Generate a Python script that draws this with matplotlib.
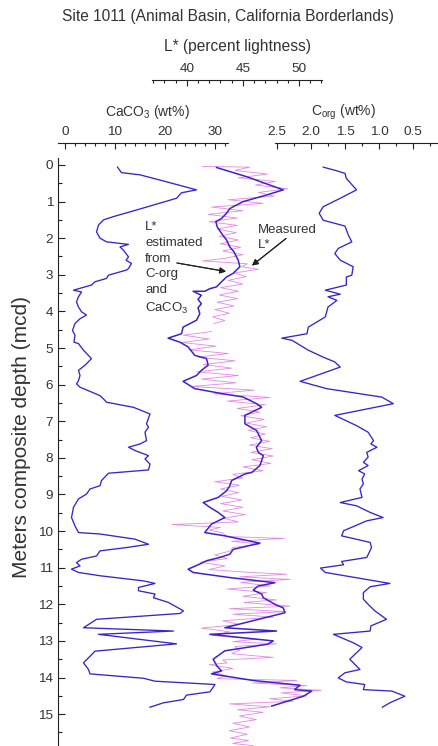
import matplotlib
matplotlib.use("Agg")
from matplotlib import pyplot as plt
from matplotlib.ticker import MultipleLocator, FormatStrFormatter

plt.rcParams['font.family'] = ['Liberation Sans', 'DejaVu Sans']
plt.rcParams['mathtext.fontset'] = 'custom'
plt.rcParams['mathtext.rm'] = 'Liberation Sans'
plt.rcParams['mathtext.it'] = 'Liberation Sans:italic'
plt.rcParams['mathtext.bf'] = 'Liberation Sans:bold'

# CaCO3 (wt%) vs depth (mcd)
ca_depth = [0.06, 0.21, 0.27, 0.46, 0.68, 0.76, 0.91, 1.23, 1.41, 1.5,
            1.64, 1.83, 2.0, 2.1, 2.17, 2.24, 2.33, 2.51, 2.6, 2.69,
            2.83, 2.87, 3.01, 3.1, 3.19, 3.28, 3.42, 3.47, 3.6, 3.74,
            3.88, 4.01, 4.1, 4.2, 4.33, 4.52, 4.65, 4.84, 4.88, 5.06,
            5.29, 5.47, 5.61, 5.75, 5.89, 5.98, 6.07, 6.3, 6.39, 6.48,
            6.62, 6.8, 7.07, 7.16, 7.3, 7.53, 7.62, 7.71, 7.8, 7.94,
            8.03, 8.17, 8.33, 8.42, 8.62, 8.76, 8.85, 8.99, 9.12, 9.35,
            9.63, 9.86, 10.04, 10.08, 10.22, 10.36, 10.45, 10.54, 10.68, 10.77,
            10.86, 10.95, 11.04, 11.13, 11.22, 11.36, 11.43, 11.54, 11.63, 11.72,
            11.82, 11.95, 12.18, 12.25, 12.41, 12.64, 12.73, 12.82, 13.08, 13.28,
            13.6, 13.78, 13.9, 14.02, 14.1, 14.19, 14.39, 14.48, 14.6, 14.69,
            14.81]
ca_val = [10.5, 11.3, 15, 20.3, 26.3, 23.3, 22.3, 14.3, 9.7, 7.7,
          6.7, 6.3, 7, 8.3, 12.7, 11, 11.7, 12.7, 12.2, 13.3,
          12.7, 12.3, 8.7, 8.3, 6, 5.3, 1.7, 3.3, 2.7, 2.3,
          2.7, 3.3, 4.3, 3, 2, 1.5, 2, 1.8, 2.7, 3.7,
          5.3, 4, 2.7, 3, 2.7, 2.3, 3, 7, 7.7, 8.3,
          13.7, 17, 16.3, 16.7, 16, 16.3, 15, 12.7, 14, 16.7,
          16, 17, 16.7, 8.7, 7.3, 7, 5, 4.3, 2.7, 1.7,
          1.3, 2, 2.7, 7, 14, 16.7, 12.3, 7, 6.3, 3.3,
          2.3, 3, 1.3, 2.7, 7, 15.7, 18, 14.7, 14.7, 18,
          17.7, 20.7, 23.7, 23, 6.3, 3.7, 21.7, 6.7, 22.3, 6,
          3.7, 4.7, 5, 15.7, 18, 30, 29, 24.3, 23.7, 19.7,
          17]

# C-org (wt%) vs depth
corg_depth = [0.06, 0.16, 0.23, 0.37, 0.68, 0.91, 1.14, 1.32, 1.51, 1.67,
              1.92, 2.1, 2.28, 2.42, 2.6, 2.78, 3.01, 3.06, 3.28, 3.42,
              3.53, 3.6, 3.7, 3.88, 4.15, 4.24, 4.43, 4.61, 4.73, 4.79,
              5.06, 5.25, 5.38, 5.52, 5.91, 6.11, 6.34, 6.52, 6.84, 7.12,
              7.3, 7.53, 7.62, 7.71, 7.85, 7.98, 8.12, 8.21, 8.35, 8.44,
              8.58, 8.71, 8.85, 9.08, 9.22, 9.31, 9.49, 9.63, 9.72, 9.99,
              10.13, 10.31, 10.45, 10.72, 10.83, 10.92, 11.01, 11.13, 11.43, 11.52,
              11.68, 11.86, 12.0, 12.18, 12.41, 12.59, 12.73, 12.82, 13.05, 13.18,
              13.5, 13.78, 13.87, 14.01, 14.12, 14.19, 14.33, 14.37, 14.51, 14.69,
              14.81]
corg_val = [1.82, 1.62, 1.5, 1.48, 1.33, 1.57, 1.82, 1.88, 1.82, 1.5,
            1.45, 1.4, 1.6, 1.65, 1.57, 1.38, 1.4, 1.48, 1.48, 1.79,
            1.57, 1.75, 1.62, 1.75, 1.79, 1.87, 2.04, 2.06, 2.43, 2.28,
            2.04, 1.82, 1.65, 1.57, 2.16, 1.77, 0.96, 0.79, 1.65, 1.33,
            1.16, 1.08, 1.12, 1.03, 1.18, 1.16, 1.23, 1.16, 1.3, 1.21,
            1.25, 1.23, 1.28, 1.25, 1.57, 1.33, 1.13, 0.94, 1.18, 1.52,
            1.55, 1.13, 1.11, 1.18, 1.55, 1.52, 1.86, 1.79, 0.84, 1.13,
            1.23, 1.23, 1.16, 1.06, 0.89, 1.12, 1.13, 1.67, 1.38, 1.25,
            1.43, 1.28, 1.5, 1.6, 1.48, 1.21, 1.23, 0.81, 0.62, 0.84,
            0.95]

# L* estimated from C-org and CaCO3
lest_depth = [0.07, 0.32, 0.55, 0.68, 0.82, 1.0, 1.19, 1.32, 1.46, 1.55,
              1.69, 1.87, 2.05, 2.24, 2.37, 2.6, 2.78, 2.96, 3.06, 3.19,
              3.33, 3.38, 3.45, 3.45, 3.56, 3.67, 3.79, 3.9, 4.06, 4.24,
              4.43, 4.61, 4.73, 4.84, 4.97, 5.2, 5.29, 5.47, 5.61, 5.75,
              5.91, 6.11, 6.25, 6.34, 6.52, 6.62, 6.84, 7.07, 7.25, 7.53,
              7.71, 7.85, 7.94, 8.21, 8.4, 8.44, 8.53, 8.62, 8.76, 8.9,
              9.08, 9.22, 9.35, 9.49, 9.63, 9.81, 10.04, 10.13, 10.33, 10.5,
              10.63, 10.72, 10.81, 10.9, 11.04, 11.13, 11.27, 11.41, 11.5, 11.61,
              11.72, 11.82, 12.0, 12.1, 12.23, 12.64, 12.73, 12.82, 13.0, 13.09,
              13.27, 13.5, 13.69, 13.82, 13.9, 14.08, 14.21, 14.33, 14.37, 14.51,
              14.78]
lest_val = [42.65, 45.33, 47.41, 48.6, 47.12, 45.03, 43.84, 43.54, 43.1, 42.59,
            42.71, 43.1, 43.54, 43.84, 44.2, 44.58, 44.73, 44.13, 43.54, 43.1,
            42.65, 42.05, 41.6, 40.56, 41.3, 41.0, 41.3, 41.0, 41.16, 40.87,
            39.67, 39.53, 38.33, 39.38, 40.12, 40.71, 41.76, 41.9, 41.3, 40.87,
            39.67, 40.71, 43.24, 45.03, 46.22, 46.67, 45.18, 45.18, 46.22, 46.67,
            46.2, 46.37, 46.82, 46.52, 45.78, 45.18, 44.58, 43.99, 43.84, 43.54,
            42.8, 41.46, 42.05, 42.8, 43.39, 42.2, 41.6, 43.39, 46.52, 44.13,
            43.84, 42.95, 41.76, 41.16, 40.12, 40.56, 43.84, 47.86, 46.37, 45.92,
            46.67, 46.82, 47.86, 48.6, 48.75, 43.39, 48.0, 42.05, 47.71, 47.2,
            43.39, 42.35, 42.7, 43.1, 42.2, 45.9, 50.09, 49.6, 51.13, 50.4,
            47.56]

# measured L* (nan = gap)
nan = float('nan')
lmeas_depth = [0.04, 0.06, 0.15, 0.25, 0.35, 0.45, 0.55, 0.65, 0.75, 0.85, 0.95,
               1.05, 1.15, 1.25, 1.35, 1.45, 1.55, 1.65, 1.75, 1.85, 1.95,
               2.05, 2.15, 2.25, 2.35, 2.45, 2.55, 2.62, 2.7, 2.78, 2.85, 2.95,
               3.05, 3.15, 3.25, 3.35, 3.45, 3.55, 3.65, 3.75, 3.85, 3.95,
               4.05, 4.15, 4.25, 4.33, 4.45, 4.55, 4.65, 4.75, 4.85, 4.95,
               5.05, 5.15, 5.25, 5.35, 5.45, 5.55, 5.65, 5.75, 5.85, 5.95,
               6.05, 6.15, 6.25, 6.35, 6.45, 6.55, 6.65, 6.75, 6.85, 6.95,
               7.05, 7.15, 7.25, 7.35, 7.45, 7.55, 7.65, 7.75, 7.85, 7.95,
               8.05, 8.15, 8.25, 8.35, 8.45, 8.55, 8.65, 8.75, 8.85, 8.95,
               9.05, 9.15, 9.25, 9.35, 9.45, 9.55, 9.65, 9.75, 9.82, 9.9, 9.97,
               10.05, 10.15, 10.2, 10.28, 10.35, 10.45, 10.55, 10.65, 10.75, 10.85, 10.95,
               11.05, 11.12, 11.18, 11.25, 11.32, 11.4, 11.5, 11.58, 11.68, 11.78, 11.88, 11.95,
               12.05, 12.12, 12.2, 12.27, 12.35, 12.45, 12.55, 12.65, 12.75, 12.85, 12.95,
               13.02, 13.08, 13.15, 13.25, 13.35, 13.45, 13.52, 13.6, 13.65, 13.75, 13.85, 13.95,
               14.03, 14.08, 14.15, 14.22, 14.28, 14.35, 14.42, 14.5, 14.58, 14.65, 14.72, 14.8, 14.88, 14.95,
               15.05, 15.15, 15.25, 15.35, 15.45, 15.55, 15.65, 15.72, 15.8, 15.86]
lmeas_val = [41.4, 45.6, 44.3, 47.2, 44.6, 47.9, 46.1, 49.0, 46.4, 47.8, 43.7,
             46.8, 42.2, 45.0, 41.9, 44.5, 42.0, 44.5, 42.7, 44.4, 42.9,
             44.6, 43.0, 44.8, 43.2, 45.0, 43.4, 41.4, 45.4, 44.9, 46.4, 44.2,
             45.3, 43.7, 45.0, 43.0, 44.6, 42.9, 44.5, 42.7, 44.2, 42.5,
             43.8, 42.3, 43.4, 42.4, nan, 42.2, 39.7, 42.0, 39.6, 42.6,
             40.2, 43.7, 41.0, 44.3, 41.5, 44.0, 40.9, 44.6, 41.3, 44.4,
             40.4, 46.0, 42.4, 47.4, 43.6, 47.0, 44.5, 46.5, 44.8, 46.9,
             45.3, 47.1, 45.5, 47.0, 45.7, 47.4, 45.6, 47.6, 45.7, 47.7,
             45.8, 47.5, 45.0, 46.8, 44.1, 45.0, 42.5, 44.7, 43.0, 44.6,
             43.1, 44.9, 43.0, 45.0, 43.2, 45.2, 43.3, 44.6, 38.7, 43.0, 42.0,
             43.2, 43.6, 48.7, 44.0, 46.5, 44.1, 43.8, 42.5, 43.6, 41.2, 43.4,
             42.0, 45.2, 48.9, 44.7, 49.2, 44.8, 47.4, 43.6, 47.1, 45.0, 48.0, 45.1,
             49.2, 43.8, 48.8, 44.1, 47.7, 43.2, 44.7, 41.3, 43.8, 42.3, 46.2,
             44.1, 48.0, 44.3, 44.7, 44.0, 47.7, 43.2, 43.6, 42.0, 44.1, 42.3, 43.5,
             42.7, 49.8, 45.9, 50.7, 48.3, 52.0, 48.4, 50.7, 47.4, 49.5, 43.8, 47.4, 44.5, 46.8,
             44.7, 46.2, 44.1, 45.6, 43.8, 45.4, 43.9, 45.5, 44.1, 45.9]

W, H = 438, 746
fig = plt.figure(figsize=(W / 100, H / 100), dpi=100)

def fx(x):
    return x / W

def fy(y):
    return 1 - y / H

blue = '#3d22cc'
pink = '#e07ce0'
dark = '#222222'
txt = '#333333'
top = 158
dmin, dmax = -0.19, 15.87

def strip_axes(left, right, xlim, outward_px, major, minor):
    ax = fig.add_axes([fx(left), 0, fx(right - left), (H - top) / H])
    ax.set_xlim(*xlim)
    ax.set_ylim(dmax, dmin)
    ax.patch.set_visible(False)
    for s in ['right', 'bottom', 'left']:
        ax.spines[s].set_visible(False)
    ax.spines['top'].set_position(('outward', outward_px * 0.72))
    ax.spines['top'].set_color(dark)
    ax.spines['top'].set_linewidth(0.8)
    ax.xaxis.set_ticks_position('top')
    ax.xaxis.set_major_locator(MultipleLocator(major))
    ax.xaxis.set_minor_locator(MultipleLocator(minor))
    ax.tick_params(axis='x', which='major', direction='in', length=4, width=0.8,
                   color=dark, labelsize=9.7, labelcolor=txt, pad=3.5)
    ax.tick_params(axis='x', which='minor', direction='in', length=2.3, width=0.8, color=dark)
    ax.set_yticks([])
    return ax

ax_ca = strip_axes(58, 228, (-1.4, 32.6), 15, 10, 2)
ax_l = strip_axes(152, 322, (36.9, 52.05), 78, 5, 1)
ax_c = strip_axes(275, 438, (2.53, 0.132), 15, 0.5, 0.25)
ax_c.xaxis.set_major_formatter(FormatStrFormatter('%.1f'))

# depth axis on the CaCO3 strip
ax_ca.spines['left'].set_visible(True)
ax_ca.spines['left'].set_color(dark)
ax_ca.spines['left'].set_linewidth(0.8)
ax_ca.yaxis.set_major_locator(MultipleLocator(1))
ax_ca.yaxis.set_minor_locator(MultipleLocator(0.5))
ax_ca.tick_params(axis='y', which='major', direction='in', length=5, width=0.8,
                  color=dark, labelsize=9.7, labelcolor=txt, pad=3.5)
ax_ca.tick_params(axis='y', which='minor', direction='in', length=3, width=0.8, color=dark)

ax_ca.plot(ca_val, ca_depth, color=blue, lw=0.95, clip_on=False)
ax_c.plot(corg_val, corg_depth, color=blue, lw=0.95, clip_on=False)
ax_l.plot(lmeas_val, lmeas_depth, color=pink, lw=0.6, alpha=0.9, clip_on=False)
ax_l.plot(lest_val, lest_depth, color=blue, lw=1.1, clip_on=False)

# titles and axis names
fig.text(fx(228), fy(16), 'Site 1011 (Animal Basin, California Borderlands)',
         ha='center', va='center', fontsize=11.2, color=txt)
fig.text(fx(238), fy(47), 'L* (percent lightness)', ha='center', va='center',
         fontsize=11.2, color=txt)
fig.text(fx(147), fy(112), 'CaCO$_3$ (wt%)', ha='center', va='center',
         fontsize=10, color=txt)
fig.text(fx(344), fy(112), r'C$_{\rm org}$ (wt%)', ha='center', va='center',
         fontsize=10, color=txt)
fig.text(fx(22), fy(437), 'Meters composite depth (mcd)', ha='center', va='center',
         rotation=90, fontsize=15, color=txt)

# annotations
fig.text(fx(145), fy(221), 'L*\nestimated\nfrom\nC-org\nand\nCaCO$_3$', ha='left', va='top',
         fontsize=9.5, color=txt, linespacing=1.42)
fig.text(fx(258), fy(224), 'Measured\nL*', ha='left', va='top',
         fontsize=9.5, color=txt, linespacing=1.3)
arrow = dict(arrowstyle='-|>', color=dark, lw=0.8, mutation_scale=9, shrinkA=0, shrinkB=0)
fig.add_artist(plt.annotate('', xy=(fx(226), fy(271.5)), xytext=(fx(177), fy(263)),
                            xycoords='figure fraction', textcoords='figure fraction',
                            arrowprops=arrow))
fig.add_artist(plt.annotate('', xy=(fx(252), fy(265.5)), xytext=(fx(286), fy(238.5)),
                            xycoords='figure fraction', textcoords='figure fraction',
                            arrowprops=arrow))

fig.savefig('out.png', dpi=100)
